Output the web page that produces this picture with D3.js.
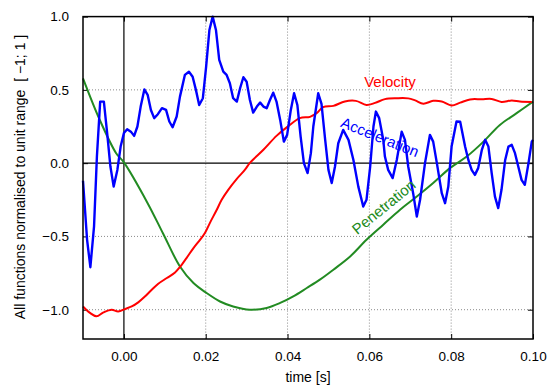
<!DOCTYPE html>
<html><head><meta charset="utf-8">
<script src="https://cdn.jsdelivr.net/npm/d3@7"></script>
<style>body{margin:0;background:#fff}svg{display:block}text{font-family:"Liberation Sans",Arial,sans-serif}</style>
</head><body><svg id="c" width="549" height="390"></svg>
<script>
const accT = [-0.0100,-0.0090,-0.0082,-0.0073,-0.0066,-0.0058,-0.0049,-0.0041,-0.0033,-0.0025,-0.0016,-0.0008,0.0000,0.0008,0.0017,0.0025,0.0033,0.0041,0.0050,0.0058,0.0066,0.0074,0.0083,0.0093,0.0103,0.0111,0.0119,0.0129,0.0137,0.0149,0.0159,0.0168,0.0176,0.0184,0.0193,0.0201,0.0209,0.0217,0.0225,0.0233,0.0243,0.0251,0.0259,0.0267,0.0276,0.0284,0.0292,0.0300,0.0308,0.0316,0.0325,0.0333,0.0341,0.0349,0.0357,0.0365,0.0373,0.0382,0.0391,0.0399,0.0408,0.0416,0.0424,0.0432,0.0440,0.0449,0.0457,0.0463,0.0475,0.0483,0.0492,0.0500,0.0508,0.0516,0.0524,0.0536,0.0549,0.0561,0.0573,0.0585,0.0593,0.0602,0.0610,0.0616,0.0624,0.0634,0.0638,0.0646,0.0657,0.0667,0.0679,0.0687,0.0695,0.0707,0.0716,0.0724,0.0736,0.0748,0.0756,0.0765,0.0777,0.0785,0.0793,0.0801,0.0813,0.0822,0.0834,0.0842,0.0850,0.0858,0.0866,0.0875,0.0883,0.0891,0.0899,0.0907,0.0915,0.0923,0.0932,0.0940,0.0948,0.0956,0.0964,0.0972,0.0980,0.0989,0.0997,0.1000];
const accV = [-0.12,-0.523,-0.71,-0.432,0.045,0.42,0.42,0.207,-0.023,-0.16,-0.046,0.113,0.205,0.232,0.215,0.186,0.25,0.386,0.503,0.466,0.363,0.307,0.334,0.375,0.363,0.284,0.245,0.318,0.454,0.602,0.624,0.59,0.5,0.397,0.443,0.658,0.909,1.0,0.909,0.704,0.624,0.602,0.545,0.443,0.42,0.511,0.586,0.556,0.431,0.345,0.386,0.413,0.386,0.375,0.431,0.481,0.42,0.295,0.147,0.193,0.363,0.477,0.397,0.181,0.0,-0.068,0.068,0.25,0.477,0.404,0.159,-0.046,-0.136,-0.023,0.136,0.227,0.159,0.022,-0.16,-0.296,-0.25,-0.023,0.25,0.352,0.307,0.159,0.045,-0.046,-0.102,0.022,0.215,0.159,-0.023,-0.205,-0.364,-0.25,0.0,0.193,0.147,0.0,-0.205,-0.273,-0.16,0.113,0.284,0.282,0.113,0.022,-0.046,-0.08,-0.034,0.091,0.159,0.113,-0.068,-0.228,-0.307,-0.182,0.022,0.113,0.125,0.068,-0.023,-0.114,-0.148,0.0,0.147,0.159];

const velT = [-0.0100,-0.0083,-0.0067,-0.0050,-0.0030,-0.0014,0.0003,0.0019,0.0035,0.0052,0.0068,0.0084,0.0105,0.0125,0.0137,0.0153,0.0170,0.0186,0.0198,0.0210,0.0227,0.0239,0.0255,0.0276,0.0296,0.0308,0.0341,0.0373,0.0401,0.0430,0.0455,0.0471,0.0487,0.0512,0.0540,0.0567,0.0593,0.0614,0.0638,0.0667,0.0695,0.0712,0.0732,0.0756,0.0777,0.0801,0.0822,0.0846,0.0875,0.0899,0.0923,0.0948,0.0968,0.0997];
const velV = [-0.978,-1.022,-1.045,-1.018,-1.0,-1.012,-0.995,-0.978,-0.95,-0.909,-0.864,-0.823,-0.784,-0.746,-0.709,-0.648,-0.58,-0.523,-0.477,-0.409,-0.318,-0.25,-0.182,-0.107,-0.045,0.002,0.091,0.186,0.251,0.307,0.316,0.341,0.382,0.391,0.421,0.425,0.397,0.411,0.437,0.443,0.442,0.428,0.406,0.425,0.421,0.394,0.413,0.435,0.436,0.438,0.418,0.428,0.421,0.418];

const penT = [-0.0100,-0.0059,-0.0019,0.0000,0.0058,0.0096,0.0137,0.0170,0.0202,0.0235,0.0267,0.0308,0.0349,0.0382,0.0414,0.0447,0.0479,0.0512,0.0553,0.0593,0.0634,0.0675,0.0716,0.0756,0.0797,0.0838,0.0879,0.0919,0.0960,0.1000];
const penV = [0.579,0.295,0.068,0.005,-0.273,-0.482,-0.705,-0.818,-0.886,-0.944,-0.978,-1.0,-0.988,-0.954,-0.909,-0.852,-0.795,-0.727,-0.637,-0.523,-0.42,-0.318,-0.228,-0.136,-0.034,0.045,0.147,0.261,0.341,0.42];

const xTicks = [0, 0.02, 0.04, 0.06, 0.08, 0.10];
const yTicks = [-1.0, -0.5, 0.0, 0.5, 1.0];
const xGrid = [0.02, 0.04, 0.06, 0.08];
const yGrid = [-1.0, -0.5, 0.5];

const svg = d3.select("#c");
const L = 83, R = 533, T = 16.6, B = 339;
const x = d3.scaleLinear().domain([-0.01, 0.10]).range([L, R]);
const y = d3.scaleLinear().domain([-1.2, 1.0]).range([B, T]);

// grid
svg.append("g").selectAll("line").data(xGrid).join("line")
  .attr("x1", d => x(d)).attr("x2", d => x(d)).attr("y1", T).attr("y2", B)
  .attr("stroke", "#8a8a8a").attr("stroke-width", 1).attr("stroke-dasharray", "1,2");
svg.append("g").selectAll("line").data(yGrid).join("line")
  .attr("y1", d => y(d)).attr("y2", d => y(d)).attr("x1", L).attr("x2", R)
  .attr("stroke", "#8a8a8a").attr("stroke-width", 1).attr("stroke-dasharray", "1,2");
// zero axes
svg.append("line").attr("x1", x(0)).attr("x2", x(0)).attr("y1", T).attr("y2", B).attr("stroke", "#000").attr("stroke-width", 1.2);
svg.append("line").attr("x1", L).attr("x2", R).attr("y1", y(0)).attr("y2", y(0)).attr("stroke", "#000").attr("stroke-width", 1.2);

// axes
const fx = d3.format(".2f"), fy = d3.format(".1f");
const ax = (g) => g.call(s => s.select(".domain").remove());
svg.append("g").attr("transform", `translate(0,${B})`)
  .call(d3.axisBottom(x).tickValues(xTicks).tickFormat(fx).tickSizeInner(-5).tickSizeOuter(0).tickPadding(12))
  .call(ax).call(g => g.selectAll("text").attr("font-size", 13.5).attr("fill", "#000").attr("font-family", "Liberation Sans, Arial, sans-serif"));
svg.append("g").attr("transform", `translate(0,${T})`)
  .call(d3.axisTop(x).tickValues(xTicks).tickFormat("").tickSizeInner(-5).tickSizeOuter(0)).call(ax);
svg.append("g").attr("transform", `translate(${L},0)`)
  .call(d3.axisLeft(y).tickValues(yTicks).tickFormat(fy).tickSizeInner(-5).tickSizeOuter(0).tickPadding(14))
  .call(ax).call(g => g.selectAll("text").attr("font-size", 13.5).attr("fill", "#000").attr("font-family", "Liberation Sans, Arial, sans-serif"));
svg.append("g").attr("transform", `translate(${R},0)`)
  .call(d3.axisRight(y).tickValues(yTicks).tickFormat("").tickSizeInner(-5).tickSizeOuter(0)).call(ax);
svg.selectAll(".tick line").attr("stroke", "#000").attr("stroke-width", 1);

// series
const mk = (T_, V_) => T_.map((t, i) => [t, V_[i]]);
const line = d3.line().x(d => x(d[0])).y(d => y(d[1]));
const smooth = d3.line().x(d => x(d[0])).y(d => y(d[1])).curve(d3.curveCatmullRom);
svg.append("path").attr("d", smooth(mk(penT, penV))).attr("fill", "none").attr("stroke", "#228b22").attr("stroke-width", 2);
svg.append("path").attr("d", smooth(mk(velT, velV))).attr("fill", "none").attr("stroke", "#ff0000").attr("stroke-width", 2);
svg.append("path").attr("d", line(mk(accT, accV))).attr("fill", "none").attr("stroke", "#0000ff").attr("stroke-width", 2.4).attr("stroke-linejoin", "round");

// frame
svg.append("rect").attr("x", L).attr("y", T).attr("width", R - L).attr("height", B - T)
  .attr("fill", "none").attr("stroke", "#000").attr("stroke-width", 1.5);

// curve labels
svg.append("text").attr("x", 390).attr("y", 87).attr("text-anchor", "middle").attr("font-size", 15).attr("fill", "#ff0000").text("Velocity");
svg.append("text").attr("transform", "translate(378,142) rotate(22)").attr("text-anchor", "middle").attr("font-size", 15).attr("fill", "#0000ff").text("Acceleration");
svg.append("text").attr("transform", "translate(387,211) rotate(-39)").attr("text-anchor", "middle").attr("font-size", 15).attr("fill", "#228b22").text("Penetration");

// axis titles
svg.append("text").attr("x", (L + R) / 2).attr("y", 382).attr("text-anchor", "middle").attr("font-size", 14).text("time [s]");
svg.append("text").attr("transform", "translate(25,177) rotate(-90)").attr("text-anchor", "middle").attr("font-size", 14)
  .style("white-space", "pre").text("All functions normalised to unit range  [ \u22121; 1 ]");
</script></body></html>
